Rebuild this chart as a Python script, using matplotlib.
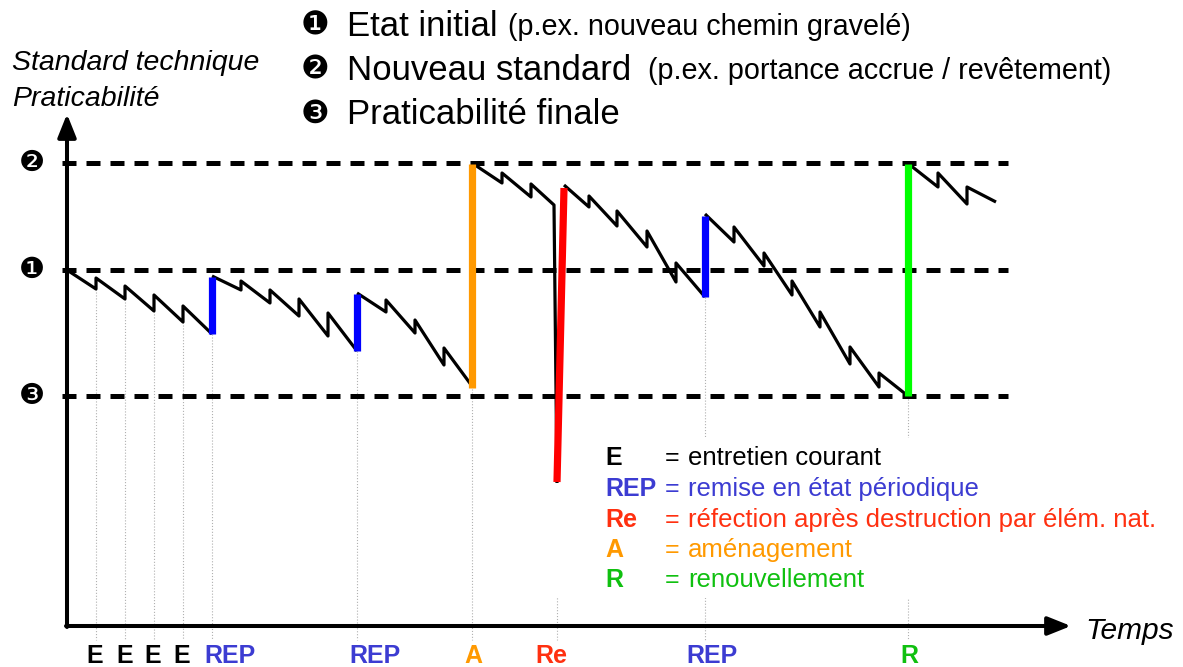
import matplotlib
matplotlib.use("Agg")
import matplotlib.pyplot as plt
from matplotlib.patches import Rectangle

plt.rcParams["font.family"] = ["Liberation Sans", "DejaVu Sans"]

# Reference levels (praticabilite units, 0 = time axis)
LEVEL_NEW = 463      # 2  nouveau standard
LEVEL_INITIAL = 356  # 1  etat initial
LEVEL_FINAL = 230    # 3  praticabilite finale

# Decay of the road between interventions (time, praticabilite)
seg1_t = [0, 29, 29, 58, 58, 87, 87, 116, 116, 145]
seg1_q = [356, 337, 348, 327, 340, 315, 331, 304, 320, 292]
seg2_t = [145, 174, 174, 203, 203, 232, 232, 261, 261, 290]
seg2_q = [350, 336, 345, 323, 336, 310, 327, 290, 313, 275]
seg3_t = [290, 319, 319, 348, 348, 377, 377, 405]
seg3_q = [333, 314, 326, 293, 306, 261, 278, 240]
seg4_t = [405, 435, 435, 464, 464, 487, 490]
seg4_q = [463, 443, 453, 429, 442, 421, 143]
seg5_t = [497, 522, 522, 550, 550, 580, 580, 609, 609, 638]
seg5_q = [441, 419, 430, 400, 415, 379, 395, 344, 363, 329]
seg6_t = [638, 667, 667, 697, 697, 725, 725, 753, 753, 783, 783, 812, 812, 841]
seg6_q = [412, 384, 399, 360, 373, 331, 345, 299, 314, 262, 279, 239, 253, 230]
seg7_t = [843, 871, 871, 900, 900, 929]
seg7_q = [461, 439, 453, 422, 439, 424]
segments = [(seg1_t, seg1_q), (seg2_t, seg2_q), (seg3_t, seg3_q), (seg4_t, seg4_q),
            (seg5_t, seg5_q), (seg6_t, seg6_q), (seg7_t, seg7_q)]

# Big interventions (coloured jumps)
bar_kind = ["REP", "REP", "A", "Re", "REP", "R"]
bar_t0 = [145, 290, 405, 490, 638, 841]
bar_t1 = [145, 290, 405, 497, 638, 841]
bar_q0 = [292, 275, 238, 144, 329, 230]
bar_q1 = [349, 332, 462, 438, 410, 462]

# Events on the time axis
event_kind = ["E", "E", "E", "E", "REP", "REP", "A", "Re", "REP", "R"]
event_t = [29, 58, 87, 116, 145, 290, 405, 490, 638, 841]
event_low = [337, 327, 315, 304, 292, 275, 240, 143, 329, 230]
label_t = [28, 58, 86, 115, 163, 308, 406, 484, 645, 842]

bar_colors = {"REP": "#0000ff", "A": "#ff9900", "Re": "#ff0000", "R": "#00ff00"}
text_colors = {"E": "#000000", "REP": "#3c3cd2", "Re": "#ff3010",
               "A": "#ff9900", "R": "#10c010"}

legend_codes = ["E", "REP", "Re", "A", "R"]
legend_texts = ["entretien courant", "remise en état périodique",
                "réfection après destruction par élém. nat.",
                "aménagement", "renouvellement"]

fig = plt.figure(figsize=(11.83, 6.67), dpi=100)
ax = fig.add_axes([0, 0, 1, 1])
ax.set_xlim(-67, 1116)
ax.set_ylim(-41, 626)
ax.axis("off")

# dashed reference levels
for lev in [LEVEL_NEW, LEVEL_INITIAL, LEVEL_FINAL]:
    ax.plot([-5, 941], [lev, lev], color="black", lw=3.6,
            linestyle=(0, (2.8, 2.0)), zorder=2)

# thin guides down to the time axis
for t, low in zip(event_t, event_low):
    ax.plot([t, t], [low, -14], color="#b0b0b0", lw=0.8, linestyle=":", zorder=1)

# legend background hides the guides behind it
ax.add_patch(Rectangle((481, 28), 620, 160, facecolor="white",
                       edgecolor="none", zorder=1.5))

for t, q in segments:
    ax.plot(t, q, color="black", lw=2.3, zorder=3, solid_capstyle="butt")

for k, t0, t1, q0, q1 in zip(bar_kind, bar_t0, bar_t1, bar_q0, bar_q1):
    ax.plot([t0, t1], [q0, q1], color=bar_colors[k], lw=5.2, zorder=4,
            solid_capstyle="butt")

# axes with arrows
arrow = dict(arrowstyle="-|>,head_length=0.7,head_width=0.28", lw=2.9,
             color="black", shrinkA=0, shrinkB=0, mutation_scale=20)
ax.annotate("", xy=(0, 512), xytext=(0, -1), arrowprops=arrow, zorder=5)
ax.annotate("", xy=(1004, 0), xytext=(-1, 0), arrowprops=arrow, zorder=5)
ax.text(1018, -5, "Temps", fontsize=21.5, style="italic", ha="left", va="center")

ax.text(-55, 563, "Standard technique", fontsize=20.5, style="italic",
        ha="left", va="center")
ax.text(-55, 527, "Praticabilité", fontsize=20.5, style="italic",
        ha="left", va="center")

# level markers
for sym, lev in zip(["\u2777", "\u2776", "\u2778"], [LEVEL_NEW, LEVEL_INITIAL, LEVEL_FINAL]):
    ax.text(-35, lev, sym, fontsize=21, family="DejaVu Sans",
            ha="center", va="center")

# header lines
header_big = ["Etat initial", "Nouveau standard", "Praticabilité finale"]
header_small = ["(p.ex. nouveau chemin gravelé)",
                "(p.ex. portance accrue / revêtement)", ""]
header_small_t = [441, 581, 0]
header_q = [600, 556, 512]
for sym, big, small, ts, q in zip(["\u2776", "\u2777", "\u2778"], header_big,
                                  header_small, header_small_t, header_q):
    ax.text(248, q, sym, fontsize=23, family="DejaVu Sans", ha="center", va="center")
    ax.text(280, q, big, fontsize=25, ha="left", va="center")
    if small:
        ax.text(ts, q - 1, small, fontsize=20.7, ha="left", va="center")

# event labels under the time axis
for k, t in zip(event_kind, label_t):
    ax.text(t, -30, k, fontsize=18, fontweight="bold", color=text_colors[k],
            ha="center", va="center")

# legend
legend_q = [168, 137, 106, 76, 46]
for code, txt, q in zip(legend_codes, legend_texts, legend_q):
    c = text_colors[code]
    ax.text(538, q, code, fontsize=18, fontweight="bold", color=c,
            ha="left", va="center")
    ax.text(598, q, "=", fontsize=18, color=c, ha="left", va="center")
    ax.text(621, q, txt, fontsize=18.5, color=c, ha="left", va="center")

fig.savefig("out.png", dpi=100)
